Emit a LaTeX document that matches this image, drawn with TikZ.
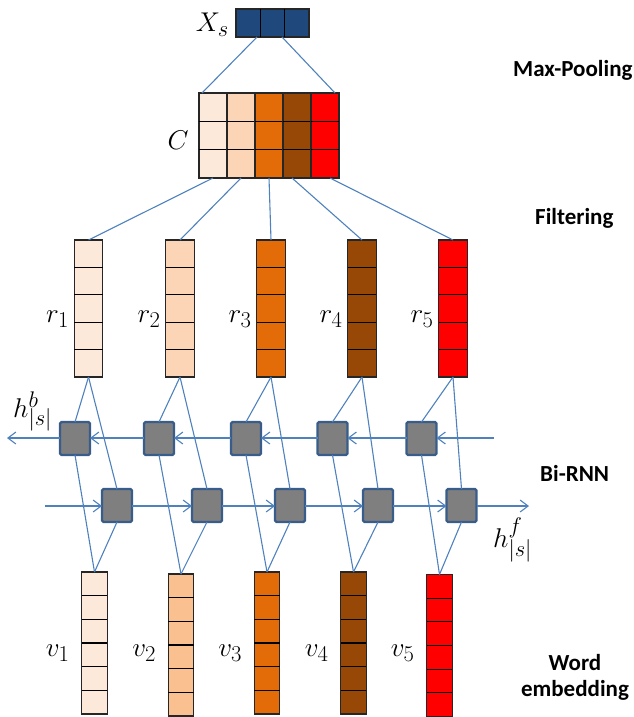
\documentclass[tikz,border=0pt]{standalone}
\usepackage{fontspec}
\newfontfamily\calfont{Carlito}
\usetikzlibrary{calc,arrows.meta}
\definecolor{cA}{HTML}{FDE9D9}
\definecolor{cB}{HTML}{FBD5B5}
\definecolor{cC}{HTML}{E36C09}
\definecolor{cD}{HTML}{974806}
\definecolor{cE}{HTML}{FF0000}
\definecolor{cF}{HTML}{FAC090}
\definecolor{xsblue}{HTML}{1F497D}
\definecolor{boxblue}{HTML}{385D8A}
\definecolor{boxgray}{HTML}{7F7F7F}
\definecolor{linkblue}{HTML}{4F81BD}
\begin{document}
\begin{tikzpicture}[x=1pt,y=-1pt,
 vec/.style={draw=black!85, line width=1.3pt, inner sep=0pt, outer sep=0pt},
 cellline/.style={draw=black, line width=1.3pt},
 rnn/.style={draw=boxblue, fill=boxgray, line width=2.4pt, minimum width=30pt, minimum height=33pt, inner sep=0pt, outer sep=0pt, rounded corners=1.5pt},
 link/.style={draw=linkblue, line width=1.1pt},
 arr/.style={link, -{Straight Barb[length=8pt,width=12pt]}},
 mlbl/.style={inner sep=0pt, font=\Huge, scale=1.09},
 blbl/.style={inner sep=0pt, font=\calfont\bfseries\fontsize{23}{26}\selectfont}
]
\useasboundingbox (0,0) rectangle (634,717);

% X_s
\node[vec, fill=xsblue, minimum width=73pt, minimum height=28pt] (Xs) at (272.5,23) {};
\foreach \k in {1,2} \draw[cellline] ($(Xs.north west)!\k/3!(Xs.north east)$) -- ($(Xs.south west)!\k/3!(Xs.south east)$);
\node[mlbl, anchor=base east] (XsL) at (229,32) {$X_s$};

% C matrix
\foreach \i/\x/\c in {1/213/cA,2/241/cB,3/269/cC,4/297/cD,5/325/cE}{
  \node[vec, fill=\c, minimum width=28pt, minimum height=85pt] (C\i) at (\x,135.5) {};
  \foreach \k in {1,2} \draw[cellline] ($(C\i.north west)!\k/3!(C\i.south west)$) -- ($(C\i.north east)!\k/3!(C\i.south east)$);
}
\node[mlbl, anchor=base] (CL) at (178,149) {$C$};

% r vectors
\foreach \i/\x/\c in {1/88.5/cA,2/180/cB,3/271/cC,4/362/cD,5/453/cE}{
  \node[vec, fill=\c, minimum width=28.5pt, minimum height=137pt] (r\i) at (\x,308.5) {};
  \foreach \k in {1,...,4} \draw[cellline] ($(r\i.north west)!\k/5!(r\i.south west)$) -- ($(r\i.north east)!\k/5!(r\i.south east)$);
  \node[mlbl, anchor=base east] (rL\i) at ($(r\i.west)+(-5,13.5)$) {$r_{\i}$};
}

% v vectors
\foreach \i/\x/\y/\c/\d in {1/94.5/643/cA/13,2/181/645/cF/11,3/267/643/cC/13,4/353.5/643/cD/13,5/439.5/645.5/cE/10.5}{
  \node[vec, fill=\c, minimum width=25.5pt, minimum height=142pt] (v\i) at (\x,\y) {};
  \foreach \k in {1,...,5} \draw[cellline] ($(v\i.north west)!\k/6!(v\i.south west)$) -- ($(v\i.north east)!\k/6!(v\i.south east)$);
  \node[mlbl, anchor=base east] (vL\i) at ($(v\i.west)+(-12,\d)$) {$v_{\i}$};
}

% RNN boxes
\foreach \i/\x in {1/75,2/159,3/246,4/332.5,5/421.5} \node[rnn] (b\i) at (\x,438.5) {};
\foreach \i/\x in {1/117,2/207,3/290,4/378,5/461.5} \node[rnn] (f\i) at (\x,505.5) {};

% links Xs -> C
\draw[link] ([xshift=-15.5pt]Xs.south) -- ([xshift=3pt]C1.north west);
\draw[link] ([xshift=9.5pt]Xs.south) -- ([xshift=-4pt]C5.north east);
% links C -> r
\draw[link] (C1.south) -- (r1.north);
\draw[link] (C2.south) -- (r2.north);
\draw[link] (C3.south) -- (r3.north);
\draw[link] ([xshift=-5pt]C4.south) -- (r4.north);
\draw[link] ([xshift=5pt]C5.south) -- (r5.north);

% links RNN
\foreach \i in {1,...,5}{
  \draw[link] (b\i.north) -- (r\i.south);
  \draw[link] (f\i.north) -- (r\i.south);
  \draw[link] (v\i.north) -- (b\i.south);
  \draw[link] (v\i.north) -- (f\i.south);
}

% recurrent arrows
\coordinate (bstart) at (494,438);
\coordinate (bend) at (7,438);
\coordinate (fstart) at (45,506);
\coordinate (fend) at (529,506);
\draw[arr] (bstart) -- (b5.east |- bstart);
\draw[arr] (b5.west |- bstart) -- (b4.east |- bstart);
\draw[arr] (b4.west |- bstart) -- (b3.east |- bstart);
\draw[arr] (b3.west |- bstart) -- (b2.east |- bstart);
\draw[arr] (b2.west |- bstart) -- (b1.east |- bstart);
\draw[arr] (b1.west |- bstart) -- (bend);
\draw[arr] (fstart) -- (f1.west |- fstart);
\draw[arr] (f1.east |- fstart) -- (f2.west |- fstart);
\draw[arr] (f2.east |- fstart) -- (f3.west |- fstart);
\draw[arr] (f3.east |- fstart) -- (f4.west |- fstart);
\draw[arr] (f4.east |- fstart) -- (f5.west |- fstart);
\draw[arr] (f5.east |- fstart) -- (fend);

\node[mlbl, anchor=base west] (hb) at (13,417) {$h^{b}_{|s|}$};
\node[mlbl, anchor=base west] (hf) at (493,547) {$h^{f}_{|s|}$};

% stage labels
\node[blbl, anchor=base west] (tMP) at (513,77) {Max-Pooling};
\node[blbl, anchor=base west] (tF) at (535,224) {Filtering};
\node[blbl, anchor=base west] (tB) at (540,481) {Bi-RNN};
\node[blbl, anchor=base] (tW1) at (575,670) {Word};
\node[blbl, anchor=base] (tW2) at (575,696) {embedding};
\end{tikzpicture}
\end{document}
